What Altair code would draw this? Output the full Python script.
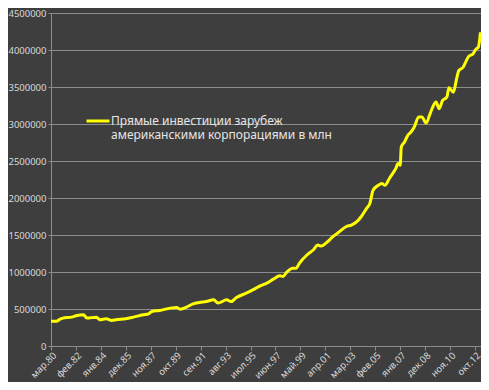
import json
import altair as alt
import pandas as pd

# months since March 1980
months = [0, 5, 8, 11, 19, 24, 30, 33, 42, 45, 51, 56, 60, 69, 76, 85, 90, 93, 100, 110,
          116, 119, 125, 131, 137, 143, 150, 154, 162, 166, 171, 180, 186, 193, 199, 205,
          211, 214, 217, 223, 226, 229, 236, 242, 246, 249, 254, 260, 266, 272, 277, 282,
          286, 291, 294, 297, 302, 305, 308, 312, 315, 318, 320, 322, 323, 326, 329, 332,
          335, 339, 342, 346, 349, 352, 355, 358, 361, 365, 367, 371, 374, 376, 380, 383,
          385, 389, 392, 394, 396]
values = [333000, 333000, 360000, 377000, 390000, 413000, 422000, 377000, 390000, 355000,
          368000, 346000, 355000, 368000, 390000, 422000, 435000, 467000, 480000, 512000,
          520000, 498000, 525000, 570000, 588000, 600000, 624000, 580000, 624000, 600000,
          655000, 714000, 759000, 813000, 849000, 903000, 948000, 939000, 992000, 1050000,
          1050000, 1118000, 1230000, 1300000, 1365000, 1350000, 1397000, 1477000, 1545000,
          1612000, 1634000, 1680000, 1747000, 1859000, 1926000, 2106000, 2173000, 2196000,
          2173000, 2263000, 2330000, 2400000, 2465000, 2443000, 2690000, 2757000, 2847000,
          2892000, 2959000, 3094000, 3094000, 3013000, 3116000, 3229000, 3296000, 3206000,
          3318000, 3363000, 3489000, 3430000, 3610000, 3722000, 3767000, 3857000, 3911000,
          3947000, 4014000, 4037000, 4239000]

tick_labels = ["мар.80", "фев.82", "янв.84", "дек.85", "ноя.87", "окт.89", "сен.91",
               "авг.93", "июл.95", "июн.97", "май.99", "апр.01", "мар.03", "фев.05",
               "янв.07", "дек.08", "ноя.10", "окт.12"]
tick_step = 23
y_ticks = list(range(0, 4500001, 500000))
series_name = "Прямые инвестиции зарубеж|американскими корпорациями в млн"

df = pd.DataFrame({"m": months, "v": values, "s": [series_name] * len(months)})

label_expr = json.dumps(tick_labels, ensure_ascii=False) + f"[round(datum.value/{tick_step})]"

font = "Noto Sans"
chart = alt.Chart(df).mark_line(strokeWidth=3, interpolate="monotone").encode(
    x=alt.X("m:Q", scale=alt.Scale(domain=[0, 396.5], nice=False, zero=False),
            axis=alt.Axis(values=[i * tick_step for i in range(len(tick_labels))],
                          labelExpr=label_expr, labelAngle=-45, grid=False,
                          labelOverlap=False, labelFontSize=9.5,
                          title=None, tickSize=4, labelPadding=0)),
    y=alt.Y("v:Q", scale=alt.Scale(domain=[0, 4500000], nice=False),
            axis=alt.Axis(values=y_ticks, format="d", title=None, tickSize=3,
                          labelPadding=2, labelFontSize=9.5)),
    color=alt.Color("s:N", scale=alt.Scale(domain=[series_name], range=["#ffff00"]),
                    legend=alt.Legend(title=None, orient="none", legendX=34, legendY=95,
                                      symbolType="stroke", symbolSize=529,
                                      symbolStrokeWidth=3, labelOffset=0,
                                      labelExpr="split(datum.label, '|')",
                                      labelFontSize=12, labelColor="#e6e6e6",
                                      labelFont=font, labelLimit=400, padding=0,
                                      labelBaseline="middle")),
).properties(
    width=430, height=333,
    autosize=alt.AutoSizeParams(type="none"),
    padding={"left": 43, "top": 5, "right": 0, "bottom": 36},
    background="#3e3e3e",
).configure_view(stroke=None, fill="#3e3e3e").configure_axis(
    labelFont=font, labelColor="#d9d9d9",
    domainColor="#8c8c8c", tickColor="#8c8c8c", gridColor="#8c8c8c",
    gridOpacity=1, gridWidth=1,
)

chart.save("out.html", embed_options={"renderer": "svg", "actions": False})
